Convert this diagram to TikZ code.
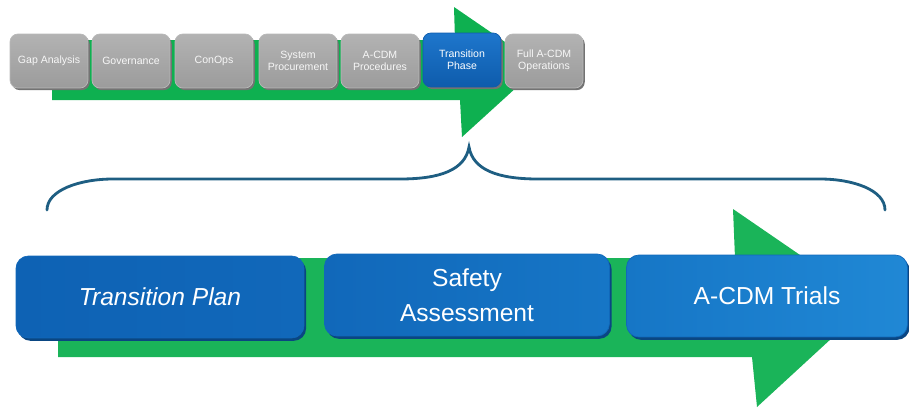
\documentclass[tikz,border=0pt]{standalone}
\usepackage{fontspec}
\setmainfont{Liberation Sans}

\definecolor{arrowgreen}{RGB}{14,176,80}
\definecolor{bracecol}{RGB}{30,94,130}
\definecolor{curtop}{RGB}{30,118,204}
\definecolor{curbot}{RGB}{14,92,172}
\definecolor{taskA}{RGB}{14,98,180}
\definecolor{taskB}{RGB}{17,104,186}
\definecolor{taskC}{RGB}{22,118,198}
\definecolor{taskD}{RGB}{32,136,213}
\definecolor{taskshadow}{RGB}{10,70,130}

\begin{document}
\begin{tikzpicture}[x=0.02cm, y=-0.02cm]

\tikzstyle{phase} = [draw=gray!55, line width=0.4pt, rounded corners=4.5pt,
  top color=gray!60, bottom color=gray!78,
  minimum width=1.56cm, minimum height=1.08cm, inner sep=1pt,
  text=white!94!gray, align=center, font=\fontsize{6}{6.8}\selectfont,
  preaction={fill=black!55, transform canvas={shift={(1pt,-1.2pt)}}}]
\tikzstyle{phasecur} = [phase, draw=curbot, top color=curtop, bottom color=curbot,
  text=white]
\tikzstyle{task} = [draw=taskB, line width=0.4pt, rounded corners=7pt,
  minimum height=1.64cm, inner sep=2pt, text=white, align=center,
  font=\fontsize{14}{20}\selectfont,
  preaction={fill=taskshadow, transform canvas={shift={(1.2pt,-1.6pt)}}}]

\useasboundingbox (0,0) rectangle (909,409);

% upper arrow and its phases
\fill[arrowgreen] (52,40) -- (455,40) -- (454,7) -- (540,66) -- (462,137)
  -- (460,100) -- (52,100) -- cycle;

\node (gap)     [phase, at={(49,61)}]  {Gap Analysis};
\node (gov)     [phase, at={(131,61)}] {Governance};
\node (conops)  [phase, at={(214,61)}] {ConOps};
\node (sysproc) [phase, at={(298,61)}] {System\\Procurement};
\node (proc)    [phase, at={(380,61)}] {A-CDM\\Procedures};
\node (trans)   [phasecur, at={(462,60)}] {Transition\\Phase};
\node (fullops) [phase, at={(544,61)}] {Full A-CDM\\Operations};

% brace
\draw[bracecol, line width=1.6pt, line cap=round]
  (47,210) .. controls (47,190) and (80,179) .. (113,179) -- (400,179)
  .. controls (440,179) and (465,170) .. (469,147)
  .. controls (473,170) and (498,179) .. (538,179) -- (820,179)
  .. controls (853,179) and (885,190) .. (885,210);

% lower arrow and the transition tasks
\fill[arrowgreen!95!white] (58,258) -- (735,258) -- (733,209) -- (870,303)
  -- (757,407) -- (752,357) -- (58,357) -- cycle;

\node (plan)   [task, left color=taskA, right color=taskB, minimum width=5.76cm,
  at={(160,297)}] {\itshape Transition Plan};
\node (safety) [task, left color=taskB, right color=taskC, minimum width=5.7cm,
  at={(467,295)}] {Safety\\Assessment};
\node (trials) [task, left color=taskC, right color=taskD, minimum width=5.62cm,
  at={(767,296)}] {A-CDM Trials};

\end{tikzpicture}
\end{document}
